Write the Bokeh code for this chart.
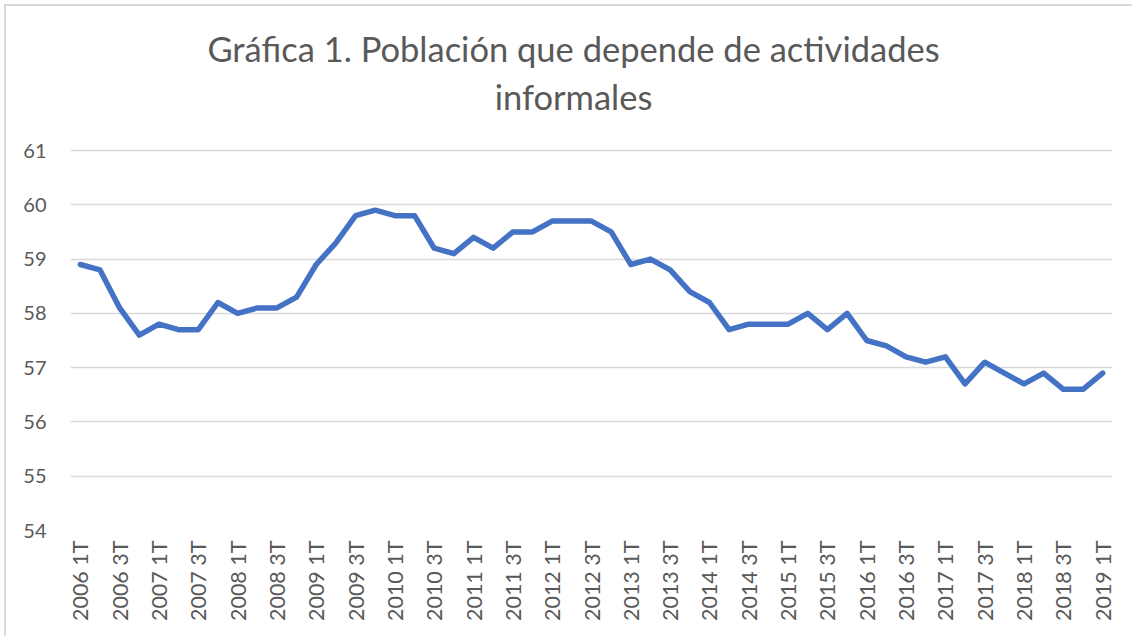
import math
from bokeh.plotting import figure
from bokeh.models import FixedTicker, Range1d
from bokeh.core.properties import value
from bokeh.embed import file_html
from bokeh.resources import INLINE

periods = []
for yr in range(2006, 2020):
    for q in ["1T", "2T", "3T", "4T"]:
        periods.append(f"{yr} {q}")
periods = periods[:53]

values = [58.9, 58.8, 58.1, 57.6, 57.8, 57.7, 57.7, 58.2, 58.0, 58.1,
          58.1, 58.3, 58.9, 59.3, 59.8, 59.9, 59.8, 59.8, 59.2, 59.1,
          59.4, 59.2, 59.5, 59.5, 59.7, 59.7, 59.7, 59.5, 58.9, 59.0,
          58.8, 58.4, 58.2, 57.7, 57.8, 57.8, 57.8, 58.0, 57.7, 58.0,
          57.5, 57.4, 57.2, 57.1, 57.2, 56.7, 57.1, 56.9, 56.7, 56.9,
          56.6, 56.6, 56.9]

y_ticks = [54, 55, 56, 57, 58, 59, 60, 61]
title_lines = ["Gráfica 1. Población que depende de actividades", "informales"]

FONT = "Lato"
GREY = "#595959"

xs = list(range(len(values)))

# layout (pixels): plot area 70..1112 wide; value 54 at y=530, value 61 at y=150
FRAME_W, FRAME_H = 1042, 530
PX_PER_UNIT = 380 / 7.0
y_top = 54 + FRAME_H / PX_PER_UNIT

p = figure(frame_width=FRAME_W, frame_height=FRAME_H, output_backend="svg",
           toolbar_location=None,
           x_range=Range1d(-0.5, len(values) - 0.5), y_range=Range1d(54, y_top),
           min_border_left=70, min_border_right=20, min_border_top=0,
           min_border_bottom=106)
p.title = None
p.outline_line_color = None
p.background_fill_color = None
p.border_fill_color = None
p.styles = {
    "background-color": "white",
    "background-image": "linear-gradient(#d9d9d9, #d9d9d9), linear-gradient(#d9d9d9, #d9d9d9)",
    "background-position": "4px 4px, 4px 4px",
    "background-size": "2px 100%, 100% 2px",
    "background-repeat": "no-repeat, no-repeat",
}

# chart title (two centred lines above the plotting area)
title_x = -0.5 + 503 / (FRAME_W / len(values))
title_y = [61 + 102 / PX_PER_UNIT, 61 + 54 / PX_PER_UNIT]
p.text(x=[title_x, title_x], y=title_y, text=title_lines,
       text_align="center", text_baseline="middle", text_font=value(FONT),
       text_font_size=value("34.5px"), text_color=GREY)

p.line(xs, values, line_color="#4472C4", line_width=5.5, line_join="round", line_cap="round")

p.xaxis.ticker = FixedTicker(ticks=list(range(0, len(values), 2)))
p.xaxis.major_label_overrides = {i: periods[i] for i in range(0, len(values), 2)}
p.xaxis.major_label_orientation = math.pi / 2
p.xaxis.major_label_text_font = FONT
p.xaxis.major_label_text_font_size = "21.5px"
p.xaxis.major_label_text_color = GREY
p.xaxis.axis_line_color = None
p.xaxis.major_tick_line_color = None
p.xaxis.minor_tick_line_color = None
p.xaxis.major_tick_out = 0
p.xaxis.major_tick_in = 0
p.xaxis.major_label_standoff = 10

p.yaxis.ticker = FixedTicker(ticks=y_ticks)
p.yaxis.major_label_text_font = FONT
p.yaxis.major_label_text_font_size = "20px"
p.yaxis.major_label_text_color = GREY
p.yaxis.axis_line_color = None
p.yaxis.major_tick_line_color = None
p.yaxis.minor_tick_line_color = None
p.yaxis.major_tick_out = 0
p.yaxis.major_tick_in = 0
p.yaxis.major_label_standoff = 24

p.xgrid.grid_line_color = None
p.ygrid.grid_line_color = "#d9d9d9"
p.ygrid.grid_line_width = 1.5

open("out.html", "w").write(file_html(p, INLINE))
